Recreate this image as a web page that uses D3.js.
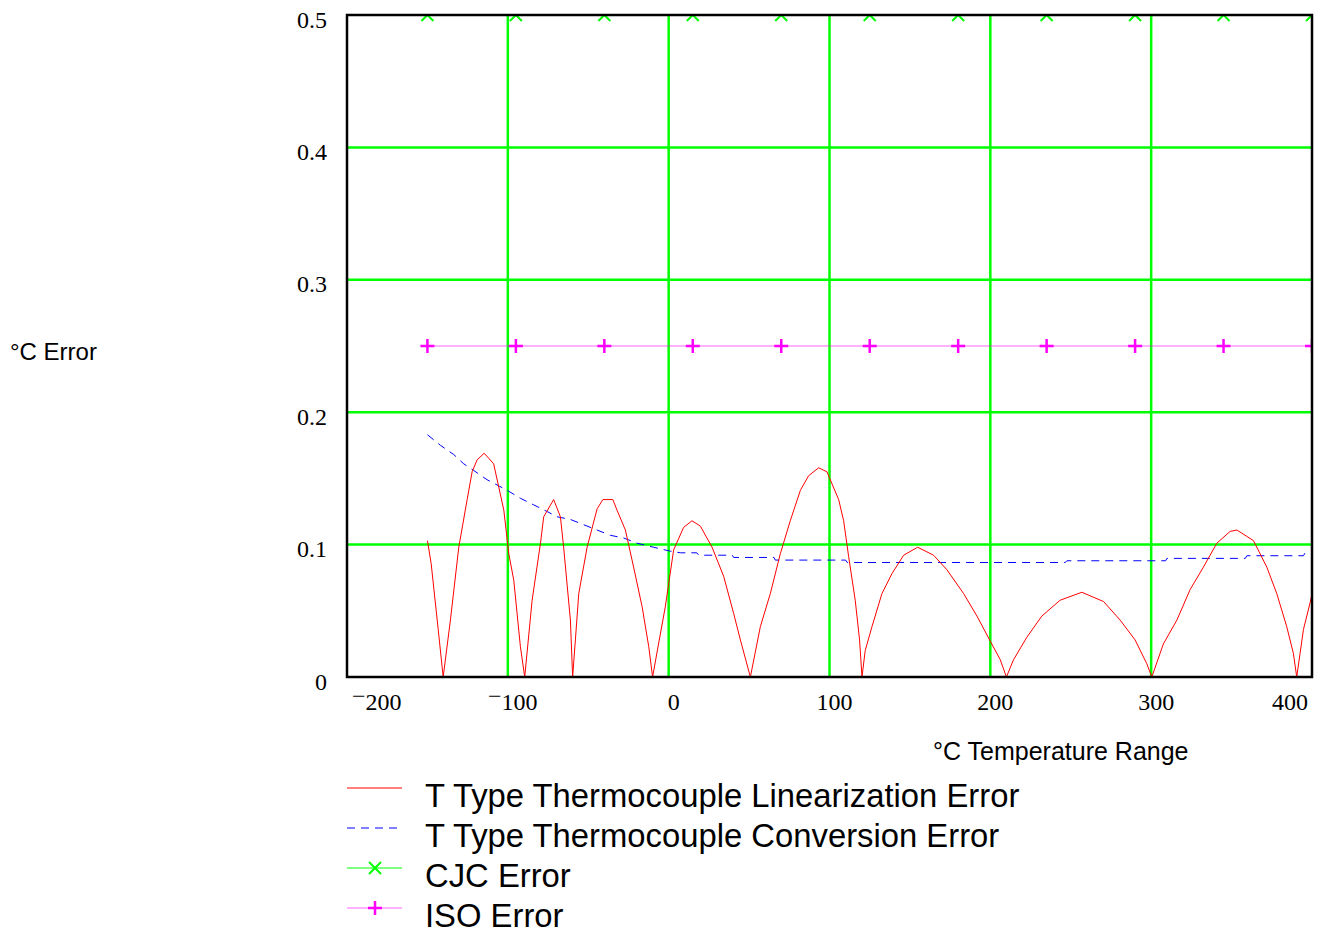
<!DOCTYPE html>
<html>
<head>
<meta charset="utf-8">
<script src="https://cdn.jsdelivr.net/npm/d3@7"></script>
<style>
  body { margin: 0; background: #ffffff; }
  svg { display: block; }
</style>
</head>
<body>
<div id="chart"></div>
<script>
// T type linearization error (red)
const linTemp = [-150, -147.7, -143.3, -140.2, -135.7, -130.5, -125.3, -122.2, -119.1, -114.7,
  -108.8, -102.5, -99.4, -96.3, -92.2, -89.5, -84.9, -79.7, -77.7, -71.5,
  -67.3, -65.3, -61.1, -59.7, -58, -55.9, -50.7, -44.5, -40.9, -34.7,
  -32.1, -26.9, -21.8, -16.5, -12.4, -10, -6, -2.1, 3.1, 9.3,
  14.5, 19.7, 27, 34.2, 40.4, 44.6, 50.8, 57, 63.2, 69.4,
  75.6, 81.9, 87, 93.2, 98.4, 105.7, 108.8, 111.9, 116, 118.7,
  120.2, 122.2, 126.4, 132.6, 138.8, 146.1, 154.8, 164.7, 173, 183.4,
  191.7, 200, 206.2, 210, 214.4, 222.7, 232, 243.4, 256.9, 270.4,
  280.7, 290, 297.3, 300.4, 307.6, 316, 324.2, 332.5, 340.8, 349.1,
  353.3, 363.6, 371.9, 378.1, 384.3, 388.4, 390.5, 394.7, 398.8, 400];
const linErr = [0.103, 0.086, 0.036, 0, 0.043, 0.098, 0.134, 0.155, 0.164, 0.169,
  0.161, 0.126, 0.093, 0.073, 0.023, 0, 0.058, 0.101, 0.121, 0.134,
  0.121, 0.098, 0.043, 0, 0.028, 0.063, 0.098, 0.127, 0.134, 0.134,
  0.126, 0.111, 0.083, 0.053, 0.023, 0, 0.027, 0.053, 0.096, 0.113,
  0.118, 0.114, 0.098, 0.076, 0.048, 0.028, 0, 0.038, 0.063, 0.093,
  0.118, 0.141, 0.152, 0.158, 0.155, 0.134, 0.118, 0.091, 0.058, 0.028,
  0, 0.020, 0.038, 0.063, 0.078, 0.092, 0.098, 0.092, 0.081, 0.063,
  0.046, 0.027, 0.013, 0, 0.013, 0.030, 0.046, 0.058, 0.064, 0.057,
  0.043, 0.028, 0.010, 0, 0.025, 0.043, 0.066, 0.083, 0.101, 0.110,
  0.111, 0.103, 0.083, 0.063, 0.038, 0.018, 0, 0.036, 0.056, 0.063];

// T type conversion error (blue dashed)
const convTemp = [-150, -141.9, -133.6, -127.4, -121.2, -112.9, -100.4, -92.2, -83.9, -75.6,
  -69.4, -61.1, -52.8, -44.5, -36.2, -28, -19.6, -9.3, 1.1, 7.3,
  17.5, 18.7, 39.5, 40.4, 65.5, 66.3, 110, 111, 246.6, 247.6,
  309, 309.8, 358.5, 359.5, 394.7, 395.7];
const convErr = [0.183, 0.175, 0.168, 0.161, 0.156, 0.149, 0.141, 0.135, 0.130, 0.125,
  0.121, 0.119, 0.115, 0.111, 0.107, 0.105, 0.101, 0.098, 0.095, 0.0938,
  0.0938, 0.092, 0.092, 0.0903, 0.0903, 0.0883, 0.0883, 0.0865, 0.0865, 0.0878,
  0.0878, 0.0896, 0.0896, 0.0916, 0.0916, 0.0938];

// CJC and ISO errors (constant, with markers)
const markTemp = [-150, -95, -40, 15, 70, 125, 180, 235, 290, 345, 400];
const cjcErr = [0.5, 0.5, 0.5, 0.5, 0.5, 0.5, 0.5, 0.5, 0.5, 0.5, 0.5];
const isoErr = [0.25, 0.25, 0.25, 0.25, 0.25, 0.25, 0.25, 0.25, 0.25, 0.25, 0.25];

const xTicks = [-200, -100, 0, 100, 200, 300, 400];
const yTicks = [0, 0.1, 0.2, 0.3, 0.4, 0.5];
const legendLabels = [
  'T Type Thermocouple Linearization Error',
  'T Type Thermocouple Conversion Error',
  'CJC Error',
  'ISO Error'
];

const width = 1328, height = 932;
const plotLeft = 347, plotRight = 1312, plotTop = 15, plotBottom = 677;

const svg = d3.select('#chart').append('svg')
  .attr('width', width)
  .attr('height', height);

const x = d3.scaleLinear().domain([-200, 400]).range([plotLeft, plotRight]);
const y = d3.scaleLinear().domain([0, 0.5]).range([plotBottom, plotTop]);

svg.append('clipPath').attr('id', 'plotclip')
  .append('rect')
  .attr('x', plotLeft).attr('y', plotTop)
  .attr('width', plotRight - plotLeft).attr('height', plotBottom - plotTop);

// grid
const grid = svg.append('g');
grid.selectAll('.vg').data(xTicks.slice(1, -1)).enter().append('line')
  .attr('x1', d => x(d)).attr('x2', d => x(d))
  .attr('y1', plotTop).attr('y2', plotBottom)
  .attr('stroke', '#00ff00').attr('stroke-width', 2.5);
grid.selectAll('.hg').data(yTicks.slice(1, -1)).enter().append('line')
  .attr('x1', plotLeft).attr('x2', plotRight)
  .attr('y1', d => y(d)).attr('y2', d => y(d))
  .attr('stroke', '#00ff00').attr('stroke-width', 2.5);

const plot = svg.append('g').attr('clip-path', 'url(#plotclip)');

const line = d3.line().x(d => x(d[0])).y(d => y(d[1]));

// ISO line + markers
plot.append('path')
  .attr('d', line(d3.zip(markTemp, isoErr)))
  .attr('fill', 'none').attr('stroke', '#ff00ff').attr('stroke-width', 1).attr('opacity', 0.6);
plot.selectAll('.iso').data(d3.zip(markTemp, isoErr)).enter().append('path')
  .attr('transform', d => `translate(${x(d[0])},${y(d[1])})`)
  .attr('d', 'M-7,0H7M0,-7V7')
  .attr('stroke', '#ff00ff').attr('stroke-width', 2.5).attr('fill', 'none');

// CJC line + markers
plot.append('path')
  .attr('d', line(d3.zip(markTemp, cjcErr)))
  .attr('fill', 'none').attr('stroke', '#00ff00').attr('stroke-width', 1);
plot.selectAll('.cjc').data(d3.zip(markTemp, cjcErr)).enter().append('path')
  .attr('transform', d => `translate(${x(d[0])},${y(d[1])})`)
  .attr('d', 'M-6,-6L6,6M-6,6L6,-6')
  .attr('stroke', '#00ff00').attr('stroke-width', 2).attr('fill', 'none');

// conversion error
plot.append('path')
  .attr('d', line(d3.zip(convTemp, convErr)))
  .attr('fill', 'none').attr('stroke', '#0000ff').attr('stroke-width', 1)
  .attr('stroke-dasharray', '8,6');

// linearization error
plot.append('path')
  .attr('d', line(d3.zip(linTemp, linErr)))
  .attr('fill', 'none').attr('stroke', '#ff0000').attr('stroke-width', 1);

// frame
svg.append('rect')
  .attr('x', plotLeft).attr('y', plotTop)
  .attr('width', plotRight - plotLeft).attr('height', plotBottom - plotTop)
  .attr('fill', 'none').attr('stroke', '#000000').attr('stroke-width', 2.5);

// y tick labels
svg.selectAll('.ylab').data(yTicks).enter().append('text')
  .attr('x', 327)
  .attr('y', d => y(d) + 12.5)
  .attr('text-anchor', 'end')
  .style('font-family', '"Liberation Serif", "Times New Roman", serif')
  .style('font-size', '24px')
  .text(d => d === 0 ? '0' : d3.format('.1f')(d));

// x tick labels (Mathcad style raised minus)
const xl = svg.selectAll('.xlab').data(xTicks).enter().append('text')
  .attr('x', (d, i) => i === 0 ? x(d) + 5 : i === xTicks.length - 1 ? x(d) - 4 : x(d) + 5)
  .attr('y', 710)
  .attr('text-anchor', (d, i) => i === 0 ? 'start' : i === xTicks.length - 1 ? 'end' : 'middle')
  .style('font-family', '"Liberation Serif", "Times New Roman", serif')
  .style('font-size', '24px');
xl.filter(d => d < 0).append('tspan').attr('dy', -6).text('\u2212');
xl.append('tspan').attr('dy', d => d < 0 ? 6 : 0).text(d => Math.abs(d));

// axis titles
svg.append('text')
  .attr('x', 10).attr('y', 360)
  .style('font-family', '"Liberation Sans", Arial, sans-serif')
  .style('font-size', '24px')
  .text('°C Error');
svg.append('text')
  .attr('x', 933).attr('y', 760)
  .style('font-family', '"Liberation Sans", Arial, sans-serif')
  .style('font-size', '25px')
  .text('°C Temperature Range');

// legend
const legend = svg.append('g');
const rowY = i => 788 + i * 40;
legend.append('line').attr('x1', 347).attr('x2', 402).attr('y1', rowY(0)).attr('y2', rowY(0))
  .attr('stroke', '#ff0000').attr('stroke-width', 1);
legend.append('line').attr('x1', 347).attr('x2', 402).attr('y1', rowY(1)).attr('y2', rowY(1))
  .attr('stroke', '#0000ff').attr('stroke-width', 1).attr('stroke-dasharray', '8,6');
legend.append('line').attr('x1', 347).attr('x2', 402).attr('y1', rowY(2)).attr('y2', rowY(2))
  .attr('stroke', '#00ff00').attr('stroke-width', 1);
legend.append('path').attr('transform', `translate(375,${rowY(2)})`)
  .attr('d', 'M-6,-6L6,6M-6,6L6,-6')
  .attr('stroke', '#00ff00').attr('stroke-width', 2).attr('fill', 'none');
legend.append('line').attr('x1', 347).attr('x2', 402).attr('y1', rowY(3)).attr('y2', rowY(3))
  .attr('stroke', '#ff00ff').attr('stroke-width', 1).attr('opacity', 0.6);
legend.append('path').attr('transform', `translate(375,${rowY(3)})`)
  .attr('d', 'M-7,0H7M0,-7V7')
  .attr('stroke', '#ff00ff').attr('stroke-width', 2.5).attr('fill', 'none');
legend.selectAll('.lt').data(legendLabels).enter().append('text')
  .attr('x', 425)
  .attr('y', (d, i) => rowY(i) + 19)
  .style('font-family', '"Liberation Sans", Arial, sans-serif')
  .style('font-size', '32.8px')
  .text(d => d);
</script>
</body>
</html>
